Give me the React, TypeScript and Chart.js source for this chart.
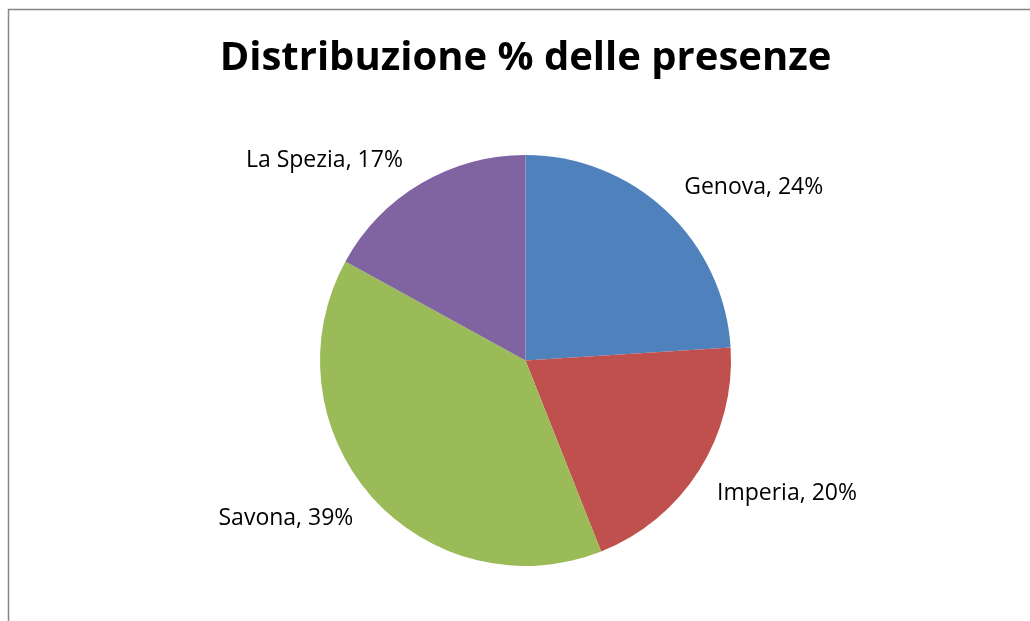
import React, { useEffect, useRef } from "react";
import { Chart, registerables } from "chart.js";

Chart.register(...registerables);

const TITLE = "Distribuzione % delle presenze";
const categories = ["Genova", "Imperia", "Savona", "La Spezia"];
const shares = [24, 20, 39, 17];
const colors = ["#4F81BD", "#C0504D", "#9BBB59", "#8064A2"];

const FONT = "'Open Sans', Lato, sans-serif";

const framePlugin = {
  id: "frame",
  beforeDraw(chart: any) {
    const ctx = chart.ctx;
    ctx.save();
    ctx.fillStyle = "#ffffff";
    ctx.fillRect(0, 0, chart.width, chart.height);
    ctx.strokeStyle = "#868686";
    ctx.lineWidth = 1.5;
    ctx.strokeRect(8.5, 9.5, chart.width + 20, chart.height + 20);
    ctx.restore();
  },
};

const titlePlugin = {
  id: "customTitle",
  afterDraw(chart: any) {
    const ctx = chart.ctx;
    ctx.save();
    ctx.font = `bold 40px ${FONT}`;
    ctx.fillStyle = "#000000";
    ctx.textAlign = "center";
    ctx.textBaseline = "alphabetic";
    const area = chart.chartArea;
    ctx.fillText(TITLE, (area.left + area.right) / 2, 70);
    ctx.restore();
  },
};

const labelPlugin = {
  id: "outsideLabels",
  afterDatasetsDraw(chart: any) {
    const ctx = chart.ctx;
    const meta = chart.getDatasetMeta(0);
    ctx.save();
    ctx.font = `23px ${FONT}`;
    ctx.fillStyle = "#000000";
    ctx.textBaseline = "alphabetic";
    meta.data.forEach((arc: any, i: number) => {
      const p = arc.getProps(["x", "y", "startAngle", "endAngle", "outerRadius"], true);
      const mid = (p.startAngle + p.endAngle) / 2;
      const ax = p.x + p.outerRadius * Math.cos(mid);
      const ay = p.y + p.outerRadius * Math.sin(mid);
      const right = Math.cos(mid) >= 0;
      const top = Math.sin(mid) < 0;
      const text = `${categories[i]}, ${shares[i]}%`;
      ctx.textAlign = right ? "left" : "right";
      const tx = ax + (right ? 18 : -18);
      const ty = ay + (top ? -17 : 29);
      ctx.fillText(text, tx, ty);
    });
    ctx.restore();
  },
};

export default function App() {
  const ref = useRef<HTMLCanvasElement | null>(null);
  useEffect(() => {
    if (!ref.current) return;
    const chart = new Chart(ref.current, {
      type: "pie",
      data: {
        labels: categories,
        datasets: [
          {
            data: shares,
            backgroundColor: colors,
            borderWidth: 0,
          },
        ],
      },
      options: {
        animation: false,
        responsive: false,
        layout: { padding: { left: 320, right: 299, top: 155, bottom: 55 } },
        plugins: {
          legend: { display: false },
          title: { display: false },
          tooltip: { enabled: false },
        },
      },
      plugins: [framePlugin, titlePlugin, labelPlugin],
    });
    return () => chart.destroy();
  }, []);
  return (
    <div style={{ position: "fixed", left: 0, top: 0, width: 1030, height: 621, background: "#fff" }}>
      <canvas ref={ref} width={1030} height={621} style={{ display: "block", width: 1030, height: 621 }} />
    </div>
  );
}
